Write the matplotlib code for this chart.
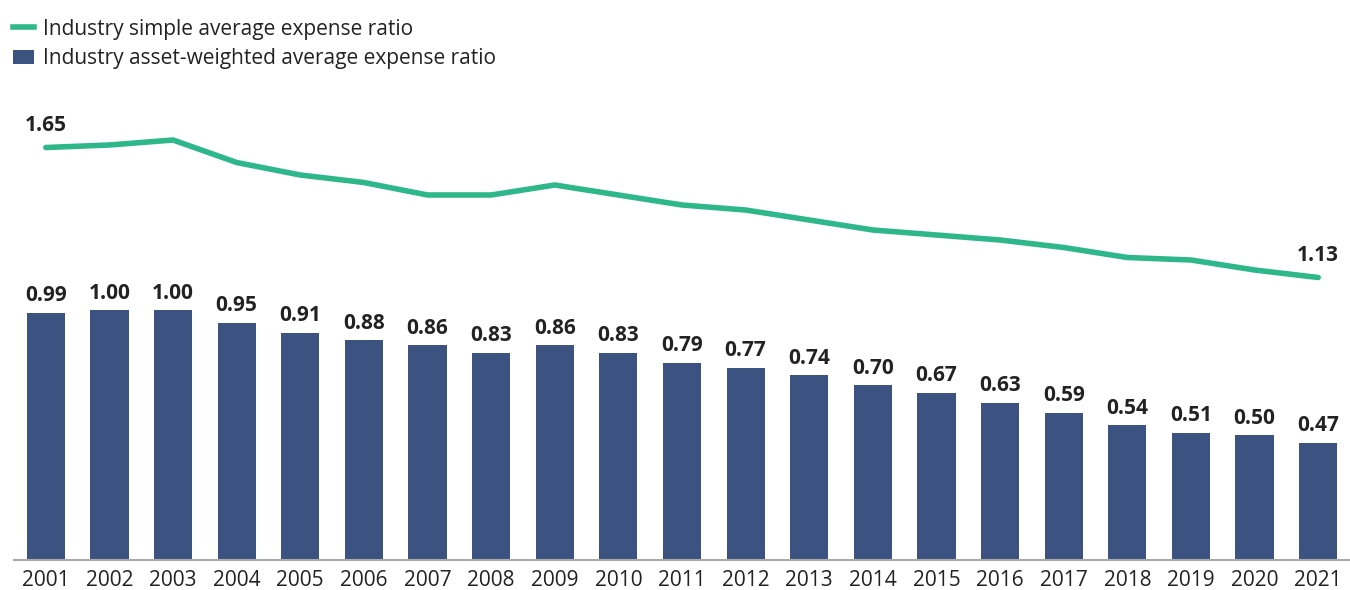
import matplotlib
matplotlib.use('Agg')
import matplotlib.pyplot as plt
from matplotlib.lines import Line2D
from matplotlib.patches import Patch

plt.rcParams['font.family'] = ['Open Sans', 'DejaVu Sans']

years = [str(y) for y in range(2001, 2022)]
asset_weighted = [0.99, 1.00, 1.00, 0.95, 0.91, 0.88, 0.86, 0.83, 0.86, 0.83, 0.79,
                  0.77, 0.74, 0.70, 0.67, 0.63, 0.59, 0.54, 0.51, 0.50, 0.47]
simple_avg = [1.65, 1.66, 1.68, 1.59, 1.54, 1.51, 1.46, 1.46, 1.50, 1.46, 1.42,
              1.40, 1.36, 1.32, 1.30, 1.28, 1.25, 1.21, 1.20, 1.16, 1.13]

bar_color = '#3C5382'
line_color = '#2EB88A'
text_color = '#222222'

fig = plt.figure(figsize=(13.5, 5.9), dpi=100)
ax = fig.add_axes([14 / 1350, 30 / 590, 1336 / 1350, 480 / 590])

x = list(range(len(years)))
ax.bar(x, asset_weighted, width=0.6, color=bar_color, zorder=2)
ax.plot(x, simple_avg, color=line_color, linewidth=4, solid_capstyle='round',
        solid_joinstyle='round', zorder=3)

# Підписи значень над стовпцями
for xi, v in zip(x, asset_weighted):
    ax.text(xi, v + 0.025, f'{v:.2f}', ha='center', va='bottom', fontsize=15,
            fontweight='bold', color=text_color)

# Підписи першої та останньої точки лінії
ax.text(x[0], simple_avg[0] + 0.045, f'{simple_avg[0]:.2f}', ha='center', va='bottom',
        fontsize=15, fontweight='bold', color=text_color)
ax.text(x[-1], simple_avg[-1] + 0.045, f'{simple_avg[-1]:.2f}', ha='center', va='bottom',
        fontsize=15, fontweight='bold', color=text_color)

ax.set_xlim(-0.5, len(years) - 0.5)
ax.set_ylim(0, 1.92)
ax.set_xticks(x)
ax.set_xticklabels(years, fontsize=15, color=text_color)
ax.set_yticks([])
ax.tick_params(axis='x', length=0, pad=7)
for side in ['top', 'right', 'left']:
    ax.spines[side].set_visible(False)
ax.spines['bottom'].set_color('#AAAAAA')
ax.spines['bottom'].set_linewidth(1.5)

handles = [Line2D([0], [0], color=line_color, linewidth=4),
           Patch(facecolor=bar_color)]
labels = ['Industry simple average expense ratio',
          'Industry asset-weighted average expense ratio']
fig.legend(handles, labels, loc='upper left', bbox_to_anchor=(-0.004, 1.0), frameon=False,
           fontsize=15, handlelength=1.0, handletextpad=0.4, labelspacing=0.4,
           borderaxespad=0.5, labelcolor=text_color)

plt.savefig('out.png', dpi=100)
